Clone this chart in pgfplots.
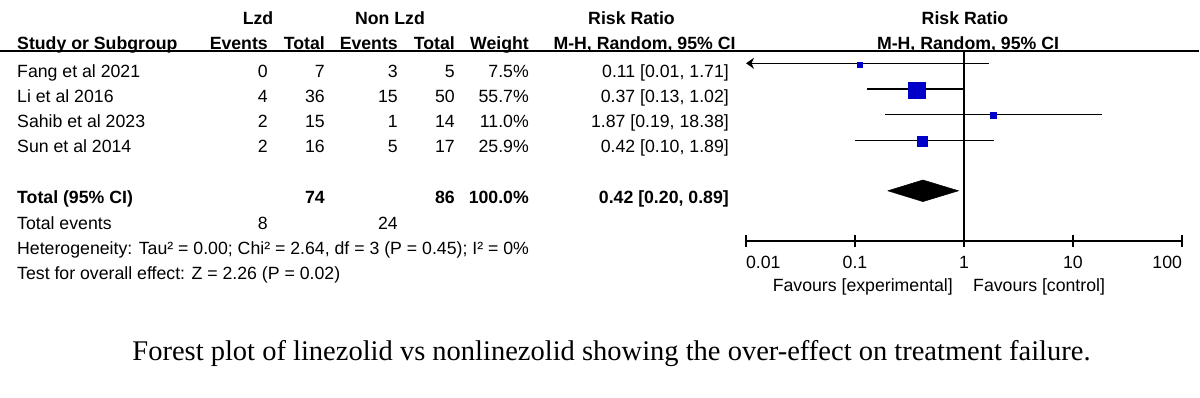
\documentclass[border=0pt]{standalone}
\usepackage{pgfplots}
\pgfplotsset{compat=1.18}
\usepackage{fontspec}
\setmainfont{Liberation Sans}
\newfontfamily\capfont{Liberation Serif}
\usetikzlibrary{arrows.meta}
\definecolor{sqblue}{RGB}{0,0,200}
\newcommand\tf{\fontsize{17.7}{21}\selectfont}
\begin{document}
\begin{tikzpicture}[every node/.style={inner sep=0pt, font=\tf}]
\useasboundingbox (0,0) rectangle (1200pt,398pt);
% ---- header row 1
\node[anchor=base] at (258pt,373pt) {\bfseries Lzd};
\node[anchor=base] at (390pt,373pt) {\bfseries Non Lzd};
\node[anchor=base] at (631.5pt,373pt) {\bfseries Risk Ratio};
\node[anchor=base] at (965pt,373pt) {\bfseries Risk Ratio};
% ---- header row 2
\node[anchor=base west] at (17pt,348pt) {\bfseries Study or Subgroup};
\node[anchor=base east] at (268pt,348pt) {\bfseries Events};
\node[anchor=base east] at (325pt,348pt) {\bfseries Total};
\node[anchor=base east] at (398pt,348pt) {\bfseries Events};
\node[anchor=base east] at (455pt,348pt) {\bfseries Total};
\node[anchor=base east] at (529pt,348pt) {\bfseries Weight};
\node[anchor=base] at (644.5pt,348pt) {\bfseries M-H, Random, 95\% CI};
\node[anchor=base] at (968pt,348pt) {\bfseries M-H, Random, 95\% CI};
\draw[line width=1.6pt] (0pt,347pt) -- (1199pt,347pt);
% ---- study rows
\foreach \y/\name/\ea/\ta/\eb/\tb/\w/\rr in {
  320/Fang et al 2021/0/7/3/5/7.5\%/{0.11 [0.01, 1.71]},
  295/Li et al 2016/4/36/15/50/55.7\%/{0.37 [0.13, 1.02]},
  270/Sahib et al 2023/2/15/1/14/11.0\%/{1.87 [0.19, 18.38]},
  245/Sun et al 2014/2/16/5/17/25.9\%/{0.42 [0.10, 1.89]}}{
  \node[anchor=base west] at (17pt,\y pt) {\name};
  \node[anchor=base east] at (268pt,\y pt) {\ea};
  \node[anchor=base east] at (325pt,\y pt) {\ta};
  \node[anchor=base east] at (398pt,\y pt) {\eb};
  \node[anchor=base east] at (455pt,\y pt) {\tb};
  \node[anchor=base east] at (529pt,\y pt) {\w};
  \node[anchor=base east] at (729pt,\y pt) {\rr};
}
% ---- totals
\node[anchor=base west] at (17pt,194.5pt) {\bfseries Total (95\% CI)};
\node[anchor=base east] at (325pt,194.5pt) {\bfseries 74};
\node[anchor=base east] at (455pt,194.5pt) {\bfseries 86};
\node[anchor=base east] at (529pt,194.5pt) {\bfseries 100.0\%};
\node[anchor=base east] at (729pt,194.5pt) {\bfseries 0.42 [0.20, 0.89]};
\node[anchor=base west] at (17pt,168.5pt) {Total events};
\node[anchor=base east] at (268pt,168.5pt) {8};
\node[anchor=base east] at (398pt,168.5pt) {24};
\node[anchor=base west] at (17pt,143.5pt) {Heterogeneity: Tau² = 0.00; Chi² = 2.64, df = 3 (P = 0.45); I² = 0\%};
\node[anchor=base west] at (17pt,118pt) {Test for overall effect: Z = 2.26 (P = 0.02)};
% ---- favours
\node[anchor=base east] at (953pt,106.5pt) {Favours [experimental]};
\node[anchor=base west] at (973pt,106.5pt) {Favours [control]};
% ---- caption
\node[anchor=base] at (611.5pt,37pt) {\capfont\fontsize{28.5}{32}\selectfont Forest plot of linezolid vs nonlinezolid showing the over-effect on treatment failure.};
% ---- forest plot
\begin{axis}[
  at={(746pt,157pt)}, anchor=south west,
  scale only axis, width=436pt, height=190pt,
  xmode=log, xmin=0.01, xmax=100, ymin=157, ymax=347,
  axis x line=bottom, axis y line=none,
  x axis line style={-, line width=1.3pt},
  xtick={0.01,0.1,1,10,100},
  xticklabels={\hphantom{0.01}0.01,0.1,1,10,100\hphantom{100}},
  xminorticks=false,
  tick align=center, major tick length=12pt,
  major tick style={line width=1.3pt, black},
  xticklabel style={anchor=base, yshift=-22pt, font=\tf},
  clip=false,
]
% line of no effect
\addplot[black, line width=1.3pt] coordinates {(1,157) (1,347)};
% confidence intervals
\addplot[black, line width=1.3pt, {Stealth[length=8pt,width=11pt,inset=2.5pt]}-] coordinates {(0.01,334.7) (1.71,334.7)};
\addplot[black, line width=1.3pt] coordinates {(0.13,309) (1.02,309)};
\addplot[black, line width=1.3pt] coordinates {(0.19,283.3) (18.38,283.3)};
\addplot[black, line width=1.3pt] coordinates {(0.10,257.7) (1.89,257.7)};
% point estimates (square size ~ weight)
\addplot[only marks, mark=square*, color=sqblue, mark size=2.5pt, mark options={line width=0pt}] coordinates {(0.11,333.2)};
\addplot[only marks, mark=square*, color=sqblue, mark size=8.35pt, mark options={line width=0pt}] coordinates {(0.37,307.5)};
\addplot[only marks, mark=square*, color=sqblue, mark size=3pt, mark options={line width=0pt}] coordinates {(1.87,282)};
\addplot[only marks, mark=square*, color=sqblue, mark size=5pt, mark options={line width=0pt}] coordinates {(0.42,256.3)};
% pooled diamond
\addplot[black, fill=black, line width=0.5pt] coordinates {(0.20,207.2) (0.42,218) (0.89,207.2) (0.42,196.4) (0.20,207.2)};
\end{axis}
\end{tikzpicture}
\end{document}
